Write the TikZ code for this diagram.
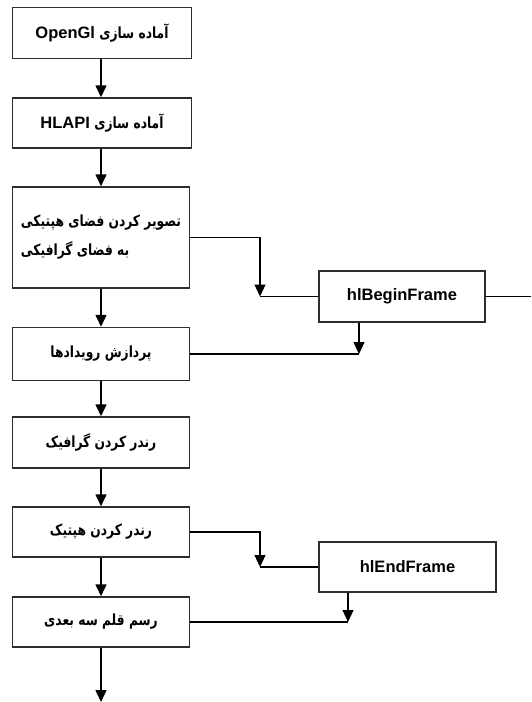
\documentclass[tikz,border=0pt]{standalone}
\usepackage{fontspec}
\setmainfont{Liberation Sans}
\newfontfamily\farsifont[Script=Arabic, Scale=0.93, FakeStretch=0.8]{DejaVu Sans}
\TeXXeTstate=1
\usetikzlibrary{arrows.meta, positioning}
\definecolor{boxline}{RGB}{45,45,45}
\newcommand{\fatext}[1]{{\farsifont\beginR #1\endR}}
\tikzset{
  block/.style={rectangle, draw=boxline, fill=white,
    minimum width=177pt, minimum height=51pt, inner sep=0pt,
    font=\bfseries\fontsize{16.5}{29}\selectfont, align=left, line width=1.5pt},
  sideblock/.style={rectangle, draw=boxline, fill=white,
    minimum width=166pt, minimum height=51pt, inner sep=0pt,
    font=\bfseries\fontsize{16.5}{20}\selectfont, line width=1.5pt},
  arrow/.style={-{Triangle[width=11pt,length=12pt]}, line width=1.5pt, color=black},
  thinarrow/.style={-{Triangle[width=11pt,length=12pt]}, line width=1.1pt, color=black},
  line/.style={line width=1.1pt, color=black}
}

\begin{document}
\begin{tikzpicture}[x=1pt, y=-1pt]
  \useasboundingbox (0,0) rectangle (531,702);
  % main column
  \node[block, minimum width=179pt] (initgl) at (102,33) {\fatext{آماده سازی \beginL{\rmfamily OpenGl}\endL}};
  \node[block, minimum width=179pt, minimum height=50pt] (inithl) at (102,123) {\fatext{آماده سازی \beginL{\rmfamily HLAPI}\endL}};
  \node[block, minimum height=101pt] (mapspace) at (101,237.5) {\fatext{تصویر کردن فضای هپتیکی}\\ \fatext{به فضای گرافیکی}};
  \node[block, minimum height=53pt] (events) at (101,354) {\fatext{پردازش رویدادها}};
  \node[block] (rendgfx) at (101,442.5) {\fatext{رندر کردن گرافیک}};
  \node[block, minimum height=50pt] (rendhap) at (101,532) {\fatext{رندر کردن هپتیک}};
  \node[block, minimum height=50pt] (cursor) at (101,622) {\fatext{رسم قلم سه بعدی}};
  % side boxes
  \node[sideblock] (beginframe) at (402,296.5) {hlBeginFrame};
  \node[sideblock, minimum width=177pt, minimum height=50pt] (endframe) at (407.5,567) {hlEndFrame};
  % free ends
  \coordinate (bjoin) at (260,296.5);
  \coordinate (bout) at (531,296.5);
  \coordinate (bdown) at (359,354);
  \coordinate (ejoin) at (260,567);
  \coordinate (edown) at (348,622);
  \coordinate (fin) at (101,702);

  \draw[arrow] (initgl.south -| 101,0) -- (inithl.north -| 101,0);
  \draw[arrow] (inithl.south -| 101,0) -- (mapspace);
  \draw[arrow] (mapspace) -- (events);
  \draw[arrow] (events) -- (rendgfx);
  \draw[arrow] (rendgfx) -- (rendhap);
  \draw[arrow] (rendhap) -- (cursor);
  \draw[arrow] (cursor) -- (fin);

  \draw[thinarrow] (mapspace.east) -| (bjoin);
  \draw[line] (beginframe.west) -- (bjoin);
  \draw[line] (beginframe.east) -- (bout);
  \draw[thinarrow] (beginframe.south -| bdown) -- (bdown);
  \draw[line] (events.east) -- (bdown);

  \draw[thinarrow] (rendhap.east) -| (ejoin);
  \draw[line] (endframe.west) -- (ejoin);
  \draw[thinarrow] (endframe.south -| edown) -- (edown);
  \draw[line] (cursor.east) -- (edown);
\end{tikzpicture}
\end{document}
